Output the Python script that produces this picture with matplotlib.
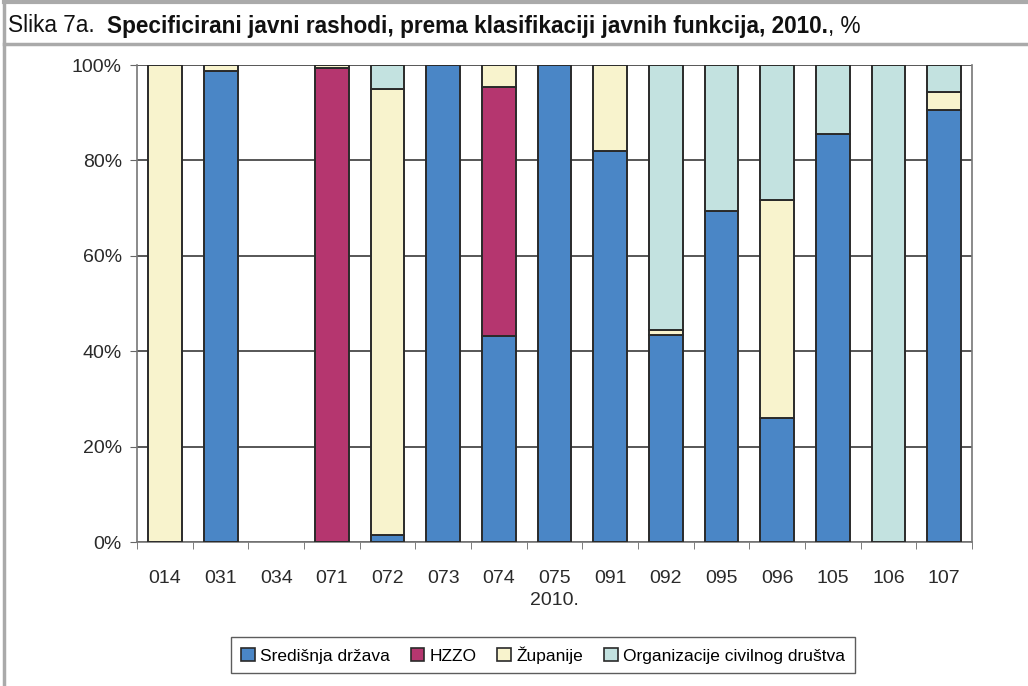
import numpy as np
import matplotlib
matplotlib.use("Agg")
import matplotlib.pyplot as plt
from matplotlib.lines import Line2D

categories = ["014", "031", "034", "071", "072", "073", "074", "075",
              "091", "092", "095", "096", "105", "106", "107"]
sredisnja = [0, 98.8, 0, 0, 1.5, 100, 43.1, 100, 81.9, 43.5, 69.5, 26.0, 85.5, 0, 90.5]
hzzo = [0, 0, 0, 99.4, 0, 0, 52.3, 0, 0, 0, 0, 0, 0, 0, 0]
zupanije = [100, 1.2, 0, 0.6, 93.5, 0, 4.6, 0, 18.1, 1.0, 0, 45.8, 0, 0, 3.8]
organizacije = [0, 0, 0, 0, 5.0, 0, 0, 0, 0, 55.5, 30.5, 28.2, 14.5, 100, 5.7]

series = [("Središnja država", sredisnja, "#4a86c6"),
          ("HZZO", hzzo, "#b5366f"),
          ("Županije", zupanije, "#f8f3cd"),
          ("Organizacije civilnog društva", organizacije, "#c3e2e0")]

plt.rcParams['font.family'] = ['Liberation Sans', 'DejaVu Sans']

fig = plt.figure(figsize=(10.28, 6.86), dpi=100)
ax = fig.add_axes([0.1333, 0.2099, 0.8122, 0.6953])

x = np.arange(len(categories))
bottom = np.zeros(len(categories))
handles = []
for name, vals, col in series:
    vals = np.array(vals, dtype=float)
    mask = vals > 0
    ax.bar(x[mask], vals[mask], 0.61, bottom=bottom[mask], color=col,
           edgecolor="#2a2a2a", linewidth=1.4, zorder=3)
    bottom += vals
    handles.append(plt.Rectangle((0, 0), 1, 1, facecolor=col,
                                 edgecolor="#2a2a2a", linewidth=1.2))

ax.set_xlim(-0.5, len(categories) - 0.5)
ax.set_ylim(0, 100)
ax.set_yticks(np.arange(0, 101, 20))
ax.set_yticklabels([f"{v}%" for v in range(0, 101, 20)], fontsize=14, color="#2a2a2a")
ax.set_xticks(x)
ax.set_xticklabels(categories, fontsize=14, color="#2a2a2a")
ax.set_xticks(np.arange(-0.5, len(categories)), minor=True)
ax.tick_params(axis="x", which="major", length=0, pad=20)
ax.tick_params(axis="x", which="minor", length=5, color="#666666", direction="out")
ax.tick_params(axis="y", length=5, color="#666666", pad=6)
ax.grid(axis="y", color="#3a3a3a", linewidth=1.2, zorder=0)
for s in ax.spines.values():
    s.set_color("#777777")
    s.set_linewidth(1.2)
ax.spines["top"].set_visible(False)
ax.set_xlabel("2010.", fontsize=14, color="#2a2a2a", labelpad=4)

leg = fig.legend(handles, [s[0] for s in series], loc="center",
                 bbox_to_anchor=(543 / 1028, 1 - 655 / 686), ncol=4,
                 fontsize=12.5, frameon=True, fancybox=False, handlelength=0.8,
                 handleheight=0.8, handletextpad=0.3, columnspacing=1.2,
                 borderpad=0.55)
leg.get_frame().set_edgecolor("#333333")
leg.get_frame().set_linewidth(1.0)

# frame of the figure
fig.add_artist(Line2D([0.004, 0.004], [0, 0.997], color="#aaaaaa", lw=2.5))
fig.add_artist(Line2D([0.004, 1], [0.997, 0.997], color="#aaaaaa", lw=3))
fig.add_artist(Line2D([0.004, 1], [1 - 44 / 686, 1 - 44 / 686], color="#aaaaaa", lw=2.5))

# title made of regular and bold parts
renderer = fig.canvas.get_renderer()
ty = 1 - 26 / 686
tx = 8 / 1028
parts = [("Slika 7a.  ", "normal"),
         ("Specificirani javni rashodi, prema klasifikaciji javnih funkcija, 2010.", "bold"),
         (", %", "normal")]
for txt, w in parts:
    t = fig.text(tx, ty, txt, fontsize=16.3, fontweight=w, va="center", ha="left",
                 family=["Liberation Sans Narrow", "Liberation Sans", "DejaVu Sans"],
                 color="#111111")
    bb = t.get_window_extent(renderer)
    tx = fig.transFigure.inverted().transform((bb.x1, bb.y0))[0]

fig.savefig("out.png", dpi=100)
